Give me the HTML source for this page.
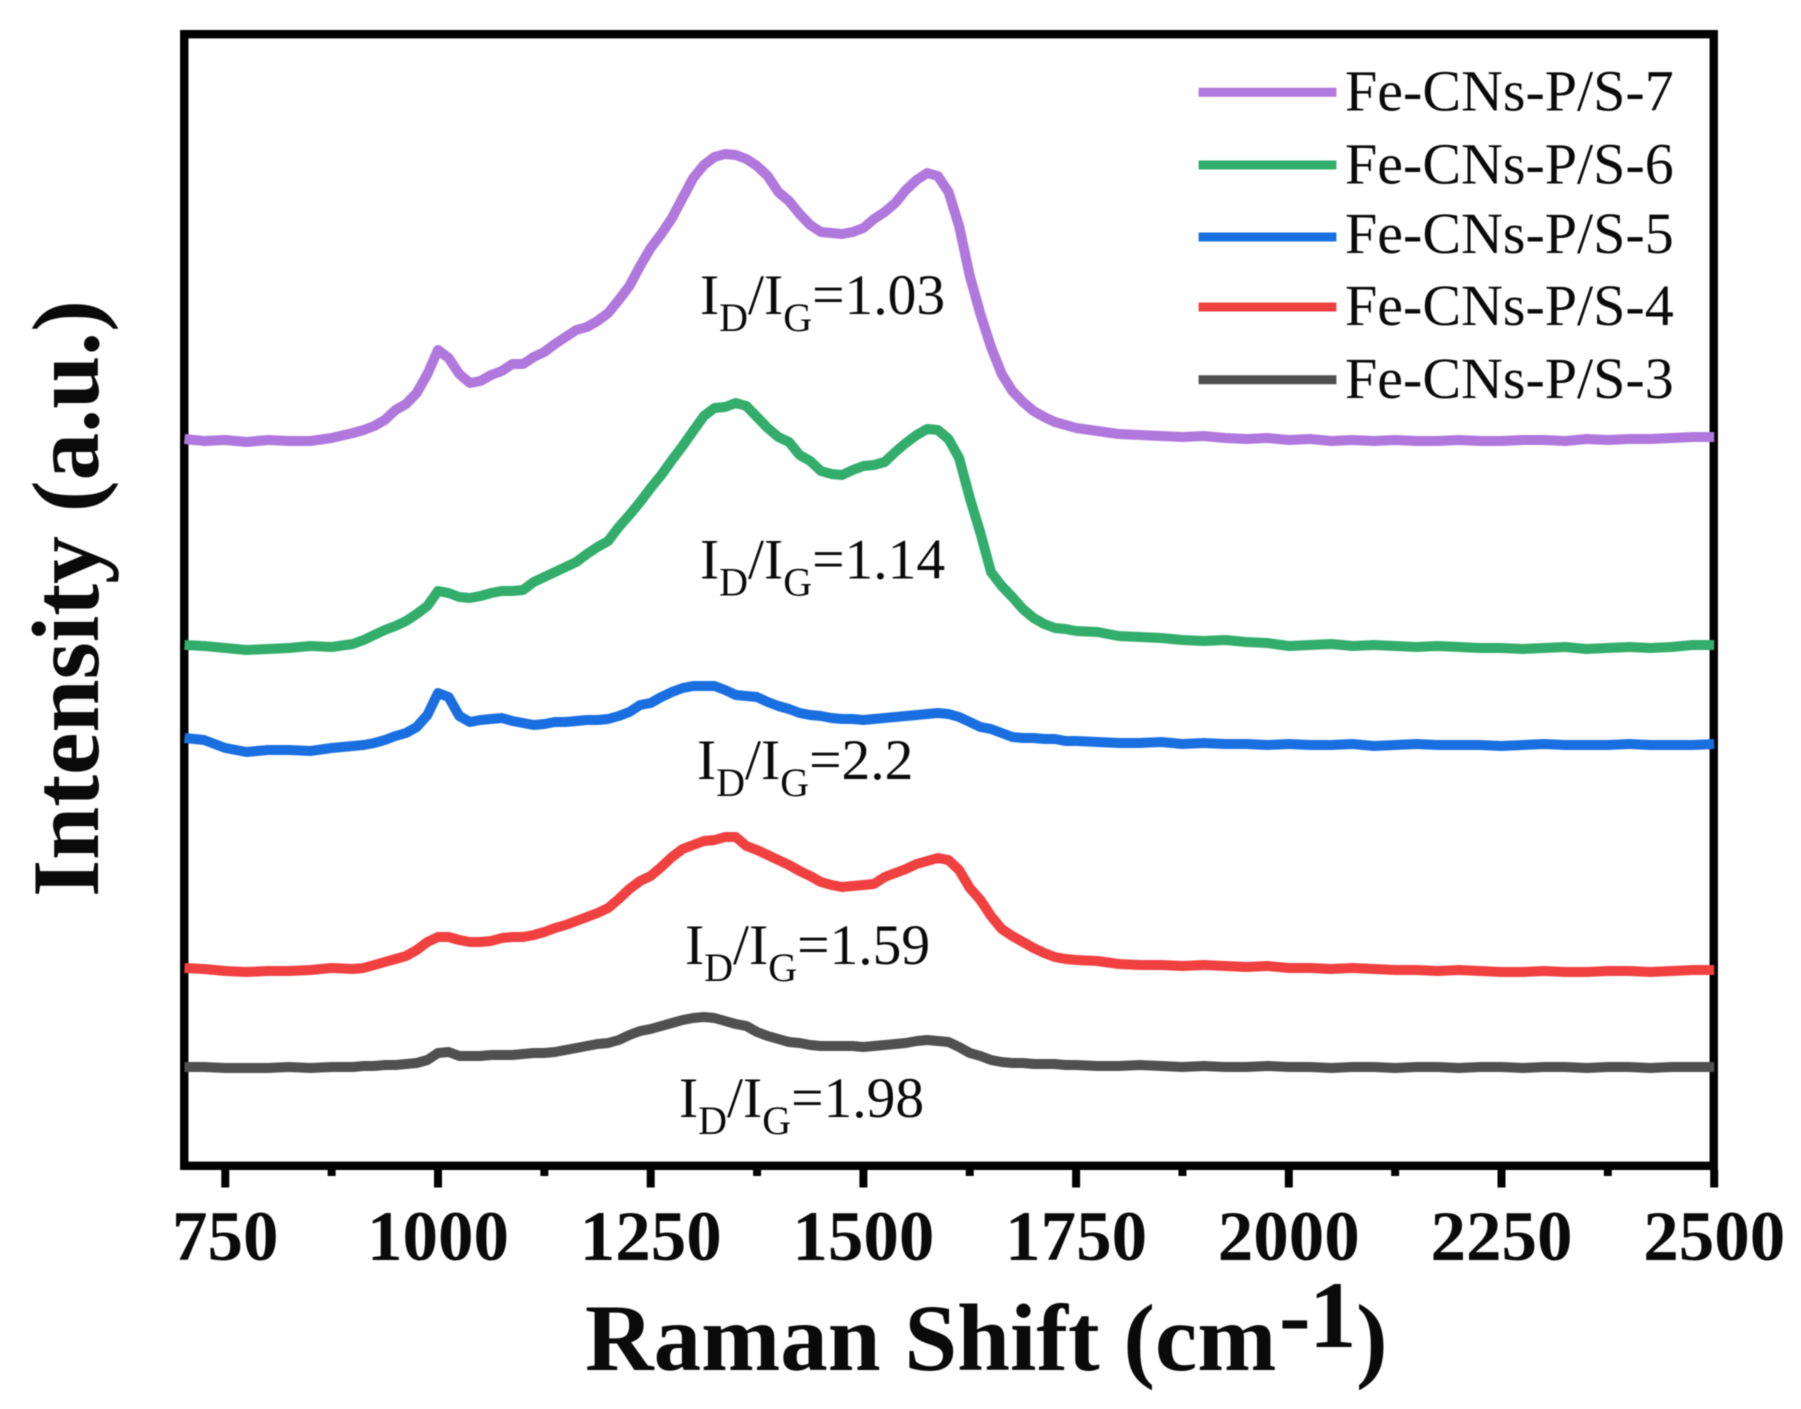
<!DOCTYPE html>
<html lang="en">
<head>
<meta charset="utf-8">
<title>Raman spectra of Fe-CNs-P/S samples</title>
<style>
html,body{margin:0;padding:0;background:#fff;}
svg{display:block;filter:blur(0.5px);}
text{font-family:"Liberation Serif",serif;fill:#0a0a0a;}
</style>
</head>
<body>
<svg id="chart" xmlns="http://www.w3.org/2000/svg" width="1801" height="1409" viewBox="0 0 1801 1409">
<rect x="184.25" y="34.2" width="1529.5" height="1131.6" fill="none" stroke="#000" stroke-width="8.4"/>
<g id="x-ticks"></g>
<g id="series"></g>
<text x="585" y="1370" font-size="95" font-weight="bold">Raman Shift (cm<tspan x="1279" y="1347">-</tspan><tspan x="1309" y="1347">1</tspan><tspan x="1356" y="1370">)</tspan></text>
<text transform="translate(98 897) rotate(-90)" font-size="95.5" font-weight="bold">Intensity (a.u.)</text>
<g id="legend"></g>
<g id="annotations"></g>
</svg>
<script>
const wavenumbers = [702,725,750,775,800,825,850,875,
900,912.5,925,937.5,950,962.5,975,987.5,1000,1012.5,1025,1037.5,1050,1062.5,1075,1087.5,1100,
1112.5,1125,1137.5,1150,1162.5,1175,1187.5,1200,1212.5,1225,1237.5,1250,1262.5,1275,1287.5,1300,
1312.5,1325,1337.5,1350,1362.5,1375,1387.5,1400,1412.5,1425,1437.5,1450,1462.5,1475,1487.5,1500,
1512.5,1525,1537.5,1550,1562.5,1575,1587.5,1600,1612.5,1625,1637.5,1650,1662.5,1675,1687.5,1700,
1712.5,1725,1737.5,1750,
1775,1800,1825,1850,1875,1900,1925,1950,1975,2000,2025,2050,2075,2100,2125,2150,2175,2200,2225,2250,2275,2300,2325,2350,2375,2400,2425,2450,2475,2500];

const fe7Values = [727,725,726,724,726,725,725,728,
733,736,740,746,756,762,773,792,816,
808,792,783,785,791,795,802,802,
809,814,822,829,836,839,845,853,
866,880,900,918,932,948,968,988,
1001,1009,1012,1011,1007,1000,990,974,
965,952,941,934,933,932,934,938,
947,954,963,976,986,993,990,974,
940,890,852,819,792,775,764,755,
749,744,741,738,
735,732,731,730,729,730,728,727,728,726,727,725,726,725,726,725,725,726,725,725,726,726,725,727,726,727,727,728,729,729];

const fe6Values = [521,520,518,516,517,518,520,519,
522,526,531,536,540,545,552,560,575,
573,569,568,570,573,575,575,576,
584,589,594,599,604,612,619,625,
639,651,664,678,691,706,720,735,
750,758,759,763,760,749,738,729,
724,711,705,695,692,691,696,700,
701,704,714,723,731,737,736,727,
708,668,633,594,580,569,557,548,
542,538,537,535,
534,530,529,528,526,525,526,524,523,520,521,522,520,521,520,519,520,519,518,518,517,518,519,517,518,519,518,519,521,521];

const fe5Values = [428,426,418,414,416,416,415,418,
420,421,423,426,430,433,439,451,473,
469,450,444,446,447,448,445,443,
441,442,444,444,445,446,446,447,
450,454,461,463,469,474,478,480,
480,480,476,471,470,469,464,460,
457,453,451,450,448,447,447,446,
447,448,449,450,451,452,453,452,
449,444,439,437,433,429,428,428,
427,427,425,425,
424,423,423,424,422,423,422,422,421,422,421,421,422,420,421,422,421,421,421,420,421,422,421,421,421,422,421,421,421,422];

const fe4Values = [198,197,195,194,195,195,196,198,
197,198,201,204,207,210,216,224,229,
229,226,224,224,225,228,229,229,
231,234,238,241,245,249,253,258,
267,277,285,290,299,309,317,321,
325,326,329,329,320,316,311,306,
301,295,290,284,281,279,280,281,
282,289,293,297,302,305,308,306,
296,278,266,250,237,230,224,218,
213,209,207,206,
205,202,201,201,200,201,200,199,200,198,198,197,198,197,196,196,195,196,195,194,194,195,194,194,195,195,194,195,196,196];

const fe3Values = [99,99,98,98,98,99,98,99,
99,100,100,101,101,102,103,106,113,
114,110,110,110,111,111,111,112,
113,113,114,116,118,120,122,123,
126,131,135,137,140,143,146,148,
149,148,145,142,140,134,130,127,
124,123,121,120,120,120,120,119,
120,121,122,123,125,126,125,124,
119,113,110,106,104,103,103,102,
102,102,101,101,
100,100,101,100,99,100,99,99,100,99,99,98,99,99,98,99,99,98,99,99,98,99,99,98,99,99,98,99,99,99];

const seriesNames = ["Fe-CNs-P/S-3","Fe-CNs-P/S-4","Fe-CNs-P/S-5","Fe-CNs-P/S-6","Fe-CNs-P/S-7"];
const seriesValues = [fe3Values,fe4Values,fe5Values,fe6Values,fe7Values];
const seriesColors = ["#505050","#F04040","#1A6FE0","#33AD6B","#B077DD"];
const majorTicks = [750,1000,1250,1500,1750,2000,2250,2500];
const minorTicks = [875,1125,1375,1625,1875,2125,2375];
const ratioLabels = ["1.98","1.59","2.2","1.14","1.03"];

const NS = "http://www.w3.org/2000/svg";
function xScale(v){ return 225.3 + (v - 750) * 0.8508; }
function yScale(v){ return 1166 - v * (1132 / 1132); }
function make(tag, attrs, parent){
  const el = document.createElementNS(NS, tag);
  for (const k in attrs) el.setAttribute(k, attrs[k]);
  parent.appendChild(el);
  return el;
}

const tickGroup = document.getElementById("x-ticks");
majorTicks.forEach(function(t){
  const line = make("line", {x1:xScale(t), x2:xScale(t), y1:1170, y2:1187.5, stroke:"#000", "stroke-width":8}, tickGroup);
  
  
  const label = make("text", {x:xScale(t), y:1260, "text-anchor":"middle", "font-size":71, "font-weight":"bold"}, tickGroup);
  
  
  label.textContent = t;
});
minorTicks.forEach(function(t){
  const line = make("line", {x1:xScale(t), x2:xScale(t), y1:1170, y2:1176, stroke:"#000", "stroke-width":8}, tickGroup);
  
  
});

const seriesGroup = document.getElementById("series");
seriesValues.forEach(function(vals, i){
  const pts = vals.map(function(v, j){ return xScale(wavenumbers[j]).toFixed(1) + "," + yScale(v).toFixed(1); }).join(" ");
  const line = make("polyline", {points:pts, fill:"none", stroke:seriesColors[i], "stroke-width":10, "stroke-linejoin":"round"}, seriesGroup);
  
  
});

const legendGroup = document.getElementById("legend");
const legendLineY = [379.7,307,237,165,92.3];
const legendTextY = [398,325,253,183.3,110.7];
seriesNames.forEach(function(name, i){
  const sw = make("line", {x1:1198.6, x2:1336.4, y1:legendLineY[i], y2:legendLineY[i], stroke:seriesColors[i], "stroke-width":9}, legendGroup);
  
  
  const tx = make("text", {x:1345, y:legendTextY[i], "font-size":58}, legendGroup);
  
  
  tx.textContent = name;
});

const annotationGroup = document.getElementById("annotations");
const annotationX = [679,685,697,700,700];
const annotationY = [1117,964,779,578.3,314];
ratioLabels.forEach(function(r, i){
  const t = make("text", {x:annotationX[i], y:annotationY[i], "font-size":57.5}, annotationGroup);
  
  
  const parts = [["I",0,null],["D",17,40],["/",-17,null],["I",0,null],["G",17,40],["="+r,-17,null]];
  parts.forEach(function(p){
    const s = make("tspan", {dy:p[1]}, t);
    if (p[2]) s.setAttribute("font-size", p[2]);
    s.textContent = p[0];
  });
});
</script>
</body>
</html>
